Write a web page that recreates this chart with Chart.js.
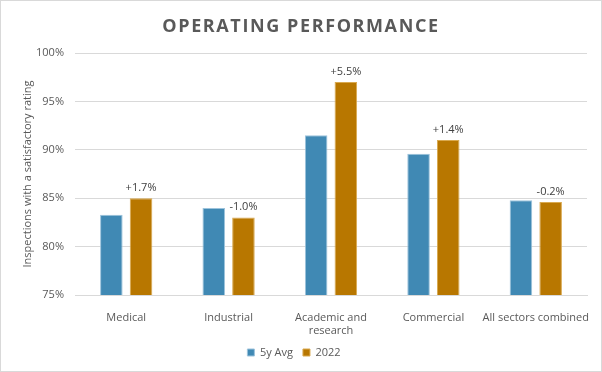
<!DOCTYPE html>
<html>
<head>
<meta charset="utf-8">
<script src="https://cdn.jsdelivr.net/npm/chart.js@4/dist/chart.umd.min.js"></script>
<style>
    body { margin: 0; background: #fff; }
    #wrap {
        position: relative;
        width: 602px;
        height: 372px;
        box-sizing: border-box;
        border: 1px solid #D9D9D9;
        background: #fff;
    }
    #title {
        position: absolute;
        left: 0;
        top: 12px;
        width: 100%;
        text-align: center;
        font-family: "Open Sans", sans-serif;
        font-weight: 700;
        font-size: 18px;
        letter-spacing: 1.6px;
        color: #595959;
    }
    #chartBox { position: absolute; left: 0; top: 0; width: 600px; height: 370px; }
</style>
</head>
<body>
<div id="wrap">
    <div id="chartBox"><canvas id="barChart"></canvas></div>
    <div id="title">OPERATING PERFORMANCE</div>
</div>
<script>
// Categories along the x axis
const sectors = ["Medical", "Industrial", ["Academic and", "research"], "Commercial", "All sectors combined"];

// Share of inspections rated satisfactory (%)
const fiveYearAvg = [83.3, 84.0, 91.5, 89.6, 84.8];
const year2022 = [85.0, 83.0, 97.0, 91.0, 84.6];

// Change labels printed above the 2022 bars
const changeLabels = ["+1.7%", "-1.0%", "+5.5%", "+1.4%", "-0.2%"];

// Y axis ticks
const yMin = 75;
const yMax = 100;
const yStep = 5;

const textColor = "#595959";
const fontFamily = "'Open Sans', sans-serif";

// Small plugin to write the change text above each 2022 bar
const changeLabelPlugin = {
    id: "changeLabels",
    afterDatasetsDraw(chart) {
        const ctx = chart.ctx;
        const meta = chart.getDatasetMeta(1);
        ctx.save();
        ctx.font = "11px " + fontFamily;
        ctx.fillStyle = "#404040";
        ctx.textAlign = "center";
        ctx.textBaseline = "bottom";
        meta.data.forEach((bar, i) => {
            ctx.fillText(changeLabels[i], bar.x, bar.y - 5);
        });
        ctx.restore();
    }
};

const chartData = {
    labels: sectors,
    datasets: [
        {
            label: "5y Avg",
            data: fiveYearAvg,
            backgroundColor: "#4089B4",
            borderColor: "#9CC3DC",
            borderWidth: 1,
            categoryPercentage: 0.58,
            barPercentage: 0.76
        },
        {
            label: "2022",
            data: year2022,
            backgroundColor: "#B87700",
            borderColor: "#D9A94F",
            borderWidth: 1,
            categoryPercentage: 0.58,
            barPercentage: 0.76
        }
    ]
};

const chartOptions = {
    responsive: false,
    animation: false,
    layout: {
        padding: { top: 52, right: 14, left: 0, bottom: 3 }
    },
    plugins: {
        title: { display: false },
        tooltip: { enabled: false },
        legend: {
            position: "bottom",
            labels: {
                boxWidth: 7,
                boxHeight: 7,
                padding: 10,
                color: textColor,
                font: { family: fontFamily, size: 11 }
            }
        }
    },
    scales: {
        x: {
            grid: { display: false },
            border: { display: true, color: "#D9D9D9" },
            ticks: {
                color: textColor,
                padding: 8,
                maxRotation: 0,
                autoSkip: false,
                font: { family: fontFamily, size: 11 }
            },
            afterFit(scale) { scale.height = 42; }
        },
        y: {
            min: yMin,
            max: yMax,
            grid: { color: "#D9D9D9", drawTicks: false },
            border: { display: false },
            ticks: {
                stepSize: yStep,
                padding: 11,
                color: textColor,
                font: { family: fontFamily, size: 11 },
                callback: v => v + "%"
            },
            title: {
                display: true,
                text: "Inspections with a satisfactory rating",
                color: textColor,
                padding: { top: 20, bottom: 0 },
                font: { family: fontFamily, size: 11 }
            },
            afterFit(scale) { scale.width = 74; }
        }
    }
};

const canvas = document.getElementById("barChart");
canvas.width = 600;
canvas.height = 370;
new Chart(canvas.getContext("2d"), {
    type: "bar",
    data: chartData,
    options: chartOptions,
    plugins: [changeLabelPlugin]
});
</script>
</body>
</html>
